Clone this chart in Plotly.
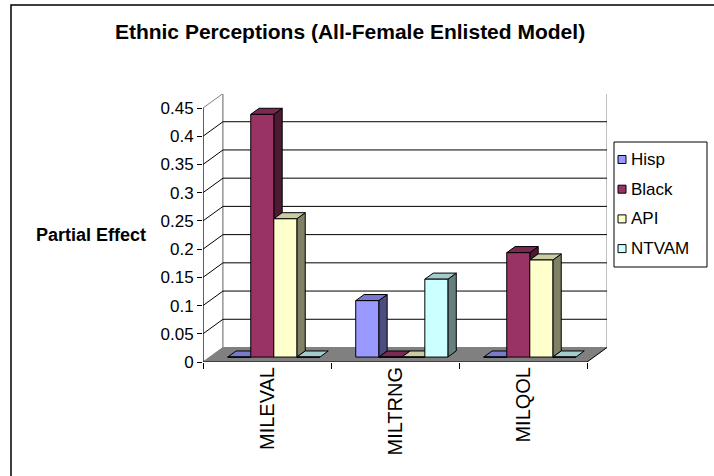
import plotly.graph_objects as go

# ---- data -------------------------------------------------------------
categories = ["MILEVAL", "MILTRNG", "MILQOL"]
series_names = ["Hisp", "Black", "API", "NTVAM"]
hisp = [0.0, 0.10, 0.0]
black = [0.43, 0.0, 0.185]
api = [0.245, 0.0, 0.172]
ntvam = [0.0, 0.138, 0.0]
y_ticks = [0, 0.05, 0.1, 0.15, 0.2, 0.25, 0.3, 0.35, 0.4, 0.45]
y_tick_text = ["0", "0.05", "0.1", "0.15", "0.2", "0.25", "0.3", "0.35", "0.4", "0.45"]

# ---- styling ----------------------------------------------------------
front_col = ["#9999FF", "#993366", "#FFFFCC", "#CCFFFF"]
top_col = ["#7A7ACC", "#7A2952", "#CCCCA3", "#A3CCCC"]
side_col = ["#4D4D80", "#4D1A33", "#808066", "#668080"]
FONT = "Arial, 'Liberation Sans', sans-serif"

W, H = 714, 476
L, R, T, B = 203, 607, 94, 362          # plot-area edges in pixels
PX_X = 128.0                             # pixels per category
PX_Y = 254.0 / 0.45                      # pixels per unit of effect
XMAX = (R - L) / PX_X
YMAX = (B - T) / PX_Y
DX = 20.0 / PX_X                         # depth of the box (x)
DY = 14.5 / PX_Y                         # depth of the box (y)
F0, F1 = 0.34, 0.76                      # bar front / back depth fractions
BW = 0.18                                # bar width (category units)
n_cat = len(categories)
top_val = y_ticks[-1]

values = [hisp, black, api, ntvam]


def px_x(p):
    return (p - L) / (R - L)


def px_y(p):
    return (B - p) / (B - T)


fig = go.Figure()
shapes = []
annotations = []


def poly(pts, fill, line="black", width=1):
    path = "M " + " L ".join(f"{x},{y}" for x, y in pts) + " Z"
    return dict(type="path", path=path, xref="x", yref="y", fillcolor=fill,
                line=dict(color=line, width=width), layer="below")


def seg(x0, y0, x1, y1, color="black", width=1):
    return dict(type="line", x0=x0, y0=y0, x1=x1, y1=y1, xref="x", yref="y",
                line=dict(color=color, width=width), layer="below")


# walls
shapes.append(poly([(0, 0), (DX, DY), (DX, top_val + DY), (0, top_val)], "white", "#808080"))
shapes.append(poly([(DX, DY), (n_cat + DX, DY), (n_cat + DX, top_val + DY), (DX, top_val + DY)],
                   "white", "#808080"))
for v in y_ticks[1:-1]:
    shapes.append(seg(0, v, DX, v + DY))
    shapes.append(seg(DX, v + DY, n_cat + DX, v + DY))
# floor
shapes.append(poly([(0, 0), (n_cat, 0), (n_cat + DX, DY), (DX, DY)], "#808080", "#808080", 0.5))
shapes.append(seg(n_cat, 0, n_cat + DX, DY))
shapes.append(seg(0, 0, n_cat, 0))
shapes.append(seg(0, 0, 0, top_val))

base = F0 * DY
ddx = (F1 - F0) * DX
ddy = (F1 - F0) * DY

# 3-D faces, left to right so nearer neighbours cover earlier sides
for c in range(n_cat):
    for i, vals in enumerate(values):
        x0 = c + 0.5 - 2 * BW + i * BW + F0 * DX
        x1 = x0 + BW
        t = base + vals[c]
        if vals[c] > 0:
            shapes.append(poly([(x1, base), (x1, t), (x1 + ddx, t + ddy), (x1 + ddx, base + ddy)],
                               side_col[i]))
        shapes.append(poly([(x0, t), (x1, t), (x1 + ddx, t + ddy), (x0 + ddx, t + ddy)], top_col[i]))

# bar fronts
for i, (name, vals) in enumerate(zip(series_names, values)):
    xs = [c + 0.5 - 1.5 * BW + i * BW + F0 * DX for c in range(n_cat)]
    fig.add_trace(go.Bar(
        x=xs, y=vals, base=[base] * n_cat, width=[BW] * n_cat, name=name,
        showlegend=False,
        marker=dict(color=front_col[i], line=dict(color="black", width=1)),
    ))

# legend box with swatches
LEG_L, LEG_R, LEG_T, LEG_B = 614, 707, 142, 267
shapes.append(dict(type="rect", xref="paper", yref="paper",
                   x0=px_x(LEG_L), x1=px_x(LEG_R), y0=px_y(LEG_B), y1=px_y(LEG_T),
                   line=dict(color="black", width=1), fillcolor="white", layer="above"))
row0, row_step = 159.5, 29.7
for i, name in enumerate(series_names):
    cy = row0 + i * row_step
    shapes.append(dict(type="rect", xref="paper", yref="paper",
                       x0=px_x(618), x1=px_x(626), y0=px_y(cy + 4), y1=px_y(cy - 4),
                       line=dict(color="black", width=1), fillcolor=front_col[i], layer="above"))
    annotations.append(dict(text=name, xref="paper", yref="paper", x=px_x(629), y=px_y(cy),
                            xanchor="left", yanchor="middle", showarrow=False,
                            font=dict(family=FONT, size=17, color="black")))

annotations.append(dict(text="<b>Partial Effect</b>", xref="paper", yref="paper",
                        x=px_x(91), y=px_y(235), xanchor="center", yanchor="middle",
                        showarrow=False, font=dict(family=FONT, size=18, color="black")))

# outer frame
shapes.append(dict(type="rect", xref="paper", yref="paper",
                   x0=px_x(11), x1=px_x(W + 10), y0=px_y(H + 10), y1=px_y(5),
                   line=dict(color="black", width=1.5), fillcolor="rgba(0,0,0,0)",
                   layer="below"))

fig.update_layout(
    width=W, height=H,
    margin=dict(l=L, r=W - R, t=T, b=H - B, pad=0),
    paper_bgcolor="white", plot_bgcolor="rgba(0,0,0,0)",
    barmode="overlay",
    shapes=shapes,
    annotations=annotations,
    showlegend=False,
    title=dict(text="<b>Ethnic Perceptions (All-Female Enlisted Model)</b>",
               x=350 / W, xanchor="center", y=1 - 32 / H, yanchor="middle",
               font=dict(family=FONT, size=21, color="black")),
    xaxis=dict(range=[0, XMAX], tickvals=[c + 0.5 for c in range(n_cat)], ticktext=categories,
               tickangle=-90, ticks="", showgrid=False, zeroline=False, showline=False,
               tickfont=dict(family=FONT, size=20, color="black"),
               minor=dict(tickvals=list(range(n_cat + 1)), ticks="outside", ticklen=6,
                          tickcolor="black", showgrid=False),
               fixedrange=True),
    yaxis=dict(range=[0, YMAX], tickvals=y_ticks, ticktext=y_tick_text,
               ticks="outside", ticklen=5, tickcolor="black", showgrid=False,
               zeroline=False, showline=False,
               tickfont=dict(family=FONT, size=17, color="black"), fixedrange=True),
)

fig.write_html("out.html")
